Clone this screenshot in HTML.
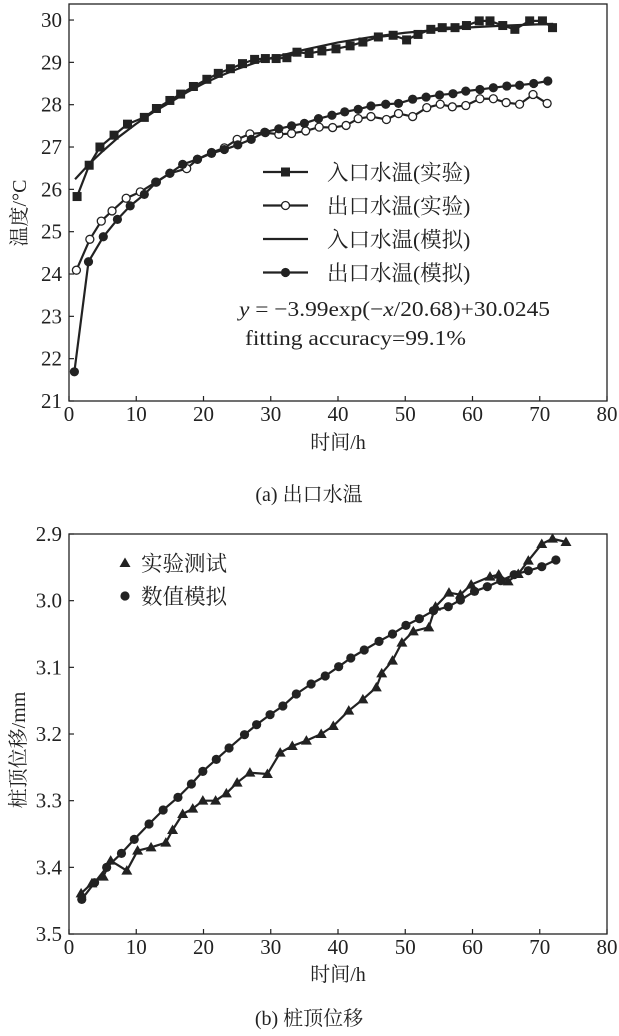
<!DOCTYPE html>
<html><head><meta charset="utf-8"><style>
html,body{margin:0;padding:0;background:#fff;}
svg text{font-family:"Liberation Serif","Noto Serif CJK SC",serif;fill:#222;}
</style></head><body>
<svg id="c" width="619" height="1031" viewBox="0 0 619 1031" xmlns="http://www.w3.org/2000/svg"></svg>
<script>
// ---- Chart (a) data ----
const inExpX=[1.2,3,4.6,6.7,8.7,11.2,13,15,16.6,18.5,20.5,22.2,24,25.8,27.6,29.2,30.8,32.4,33.9,35.7,37.6,39.7,41.8,43.7,46,48.2,50.2,51.9,53.8,55.5,57.4,59.1,61,62.6,64.5,66.3,68.5,70.4,71.9];
const inExpY=[25.83,26.57,27.0,27.28,27.54,27.7,27.91,28.1,28.25,28.43,28.6,28.74,28.85,28.97,29.07,29.09,29.09,29.11,29.24,29.21,29.27,29.32,29.39,29.48,29.6,29.64,29.53,29.66,29.78,29.82,29.82,29.87,29.98,29.98,29.87,29.78,29.98,29.98,29.82];
const inSimX=[0.9,3,5,7.5,10,12.5,15,17.5,20,22.5,25,27.5,30,35,40,45,50,55,60,65,70,72];
const inSimY=[26.24,26.6,26.9,27.25,27.55,27.82,28.05,28.29,28.5,28.68,28.84,28.98,29.1,29.3,29.47,29.6,29.7,29.77,29.83,29.87,29.9,29.91];
const outExpX=[1.1,3.1,4.8,6.4,8.5,10.6,12.9,15,17.5,19.1,21.2,23.1,25,26.9,29.2,31.2,33.1,35.2,37.2,39.2,41.2,43,44.9,47.2,49,51.1,53.2,55.2,57,59,61.1,63.1,65,67,69,71.1];
const outExpY=[24.09,24.82,25.25,25.49,25.79,25.94,26.17,26.38,26.49,26.71,26.87,26.98,27.18,27.31,27.34,27.3,27.32,27.38,27.47,27.46,27.51,27.67,27.72,27.65,27.79,27.72,27.93,28.01,27.95,27.98,28.14,28.14,28.05,28.01,28.24,28.03];
const outSimX=[0.8,2.9,5.1,7.2,9.1,11.2,13,15,16.9,19.1,21.2,23.1,25.1,27.1,29.1,31.2,33.1,35,37.1,39.1,41,43,44.9,47.1,49,51.1,53.1,55.1,57.1,59,61.1,63.1,65.1,67,69.1,71.2];
const outSimY=[21.69,24.29,24.88,25.29,25.61,25.88,26.17,26.38,26.59,26.71,26.85,26.94,27.05,27.18,27.35,27.43,27.5,27.56,27.67,27.75,27.83,27.89,27.97,28.01,28.03,28.13,28.18,28.23,28.26,28.32,28.36,28.4,28.44,28.46,28.5,28.56];
const aXTicks=[0,10,20,30,40,50,60,70,80];
const aYTicks=[21,22,23,24,25,26,27,28,29,30];
// ---- Chart (b) data ----
const bExpX=[1.8,3.4,5.1,6.2,8.6,10.2,12.2,14.4,15.4,16.9,18.4,19.9,21.8,23.4,25,26.9,29.5,31.4,33.2,35.3,37.5,39.3,41.6,43.7,45.7,46.5,48.1,49.5,51.2,53.5,54.5,56.5,58.2,59.8,62.6,63.9,65.3,66.8,68.3,70.3,71.9,73.9];
const bExpY=[3.439,3.424,3.414,3.39,3.405,3.375,3.37,3.363,3.344,3.32,3.312,3.30,3.30,3.289,3.273,3.258,3.26,3.228,3.218,3.21,3.20,3.188,3.165,3.148,3.13,3.109,3.09,3.063,3.046,3.04,3.009,2.988,2.991,2.976,2.964,2.961,2.971,2.96,2.94,2.915,2.907,2.912];
const bSimX=[1.9,3.8,5.6,7.8,9.7,11.9,14,16.2,18.2,19.9,21.9,23.8,26.1,27.9,29.9,31.8,33.8,36,38.1,40.1,41.9,43.9,46.1,48.1,50.1,52.1,54.2,56.4,58.2,60.3,62.2,64.2,66.2,68.3,70.3,72.4];
const bSimY=[3.448,3.423,3.40,3.379,3.358,3.335,3.314,3.295,3.275,3.256,3.238,3.221,3.201,3.186,3.171,3.158,3.14,3.125,3.113,3.099,3.086,3.074,3.061,3.05,3.037,3.027,3.015,3.009,2.999,2.986,2.979,2.97,2.961,2.955,2.949,2.939];
const bXTicks=[0,10,20,30,40,50,60,70,80];
const bYTicks=[2.9,3.0,3.1,3.2,3.3,3.4,3.5];

const NS="http://www.w3.org/2000/svg";
const svg=document.getElementById('c');
function mk(tag,attrs,parent){const e=document.createElementNS(NS,tag);for(const k in attrs)e.setAttribute(k,attrs[k]);(parent||svg).appendChild(e);return e;}
function txt(s,attrs,parent){const e=mk('text',attrs,parent);e.textContent=s;return e;}

const L=69,R=607;
const xs=v=>L+(v/80)*(R-L);
const ay=v=>401-(v-21)*42.33;
const by=v=>534+(v-2.9)*666.7;
const TF=21;

function frame(top,bottom,g){
  const r=mk('rect',{x:L,y:top,width:R-L,height:bottom-top,fill:'none',stroke:'#222','stroke-width':1.3},g);
  
  
}
function poly(X,Y,yf,g,name){
  const p=mk('polyline',{points:X.map((x,i)=>xs(x)+','+yf(Y[i])).join(' '),fill:'none',stroke:'#222','stroke-width':2.2,'stroke-linejoin':'round'},g);
  
  
}
function marker(type,cx,cy,g,name){
  let e;
  if(type==='sq') e=mk('rect',{x:cx-4.5,y:cy-4.5,width:9,height:9,fill:'#222'},g);
  else if(type==='oc') e=mk('circle',{cx:cx,cy:cy,r:4,fill:'#fff',stroke:'#222','stroke-width':1.3},g);
  else if(type==='fc') e=mk('circle',{cx:cx,cy:cy,r:4.6,fill:'#222'},g);
  else e=mk('polygon',{points:`${cx},${cy-5.5} ${cx-5.5},${cy+4} ${cx+5.5},${cy+4}`,fill:'#222'},g);
  
  
}

// ===== Chart (a) =====
const ga=mk('g',{});


frame(4,401,ga);
aXTicks.forEach(t=>{
  mk('line',{x1:xs(t),x2:xs(t),y1:401,y2:396,stroke:'#222','stroke-width':1.2},ga);
  const e=txt(t,{x:xs(t),y:421,'font-size':TF,'text-anchor':'middle'},ga);
  
  
});
aYTicks.forEach(t=>{
  mk('line',{x1:L,x2:L+5,y1:ay(t),y2:ay(t),stroke:'#222','stroke-width':1.2},ga);
  const e=txt(t,{x:62,y:ay(t)+7,'font-size':TF,'text-anchor':'end'},ga);
  
  
});
poly(inSimX,inSimY,ay,ga,'inlet-sim-line');
poly(inExpX,inExpY,ay,ga,'inlet-exp-line');
poly(outExpX,outExpY,ay,ga,'outlet-exp-line');
poly(outSimX,outSimY,ay,ga,'outlet-sim-line');
inExpX.forEach((x,i)=>marker('sq',xs(x),ay(inExpY[i]),ga,'inlet-exp-point'));
outExpX.forEach((x,i)=>marker('oc',xs(x),ay(outExpY[i]),ga,'outlet-exp-point'));
outSimX.forEach((x,i)=>marker('fc',xs(x),ay(outSimY[i]),ga,'outlet-sim-point'));
const legA=[['sq','入口水温(实验)'],['oc','出口水温(实验)'],['none','入口水温(模拟)'],['fc','出口水温(模拟)']];
const lga=mk('g',{},ga);


legA.forEach((d,i)=>{
  const y=172+i*33.5;
  mk('line',{x1:263,x2:308,y1:y,y2:y,stroke:'#222','stroke-width':2.2},lga);
  if(d[0]!=='none') marker(d[0],285.5,y,lga,'legend-marker');
  const e=txt(d[1],{x:327,y:y+8,'font-size':21.5},lga);
  
  
});
const eq=txt('',{x:239,y:316,'font-size':21.5,textLength:311,lengthAdjust:'spacingAndGlyphs'},ga);


eq.innerHTML='<tspan font-style="italic">y</tspan> = −3.99exp(−<tspan font-style="italic">x</tspan>/20.68)+30.0245';
const fa=txt('fitting  accuracy=99.1%',{x:245,y:345,'font-size':21.5,textLength:221,lengthAdjust:'spacingAndGlyphs'},ga);


const xta=txt('时间/h',{x:338,y:449,'font-size':20,'text-anchor':'middle'},ga);


const yta=txt('温度/°C',{x:0,y:0,'font-size':20,'text-anchor':'middle',transform:'translate(26,213) rotate(-90)'},ga);


const ca=txt('(a) 出口水温',{x:309,y:501,'font-size':20,'text-anchor':'middle'},ga);



// ===== Chart (b) =====
const gb=mk('g',{});


frame(534,934,gb);
bXTicks.forEach(t=>{
  mk('line',{x1:xs(t),x2:xs(t),y1:934,y2:929,stroke:'#222','stroke-width':1.2},gb);
  const e=txt(t,{x:xs(t),y:954,'font-size':TF,'text-anchor':'middle'},gb);
  
  
});
bYTicks.forEach(t=>{
  mk('line',{x1:L,x2:L+5,y1:by(t),y2:by(t),stroke:'#222','stroke-width':1.2},gb);
  const e=txt(t.toFixed(1),{x:62,y:by(t)+7,'font-size':TF,'text-anchor':'end'},gb);
  
  
});
poly(bSimX,bSimY,by,gb,'sim-line');
poly(bExpX,bExpY,by,gb,'exp-line');
bSimX.forEach((x,i)=>marker('fc',xs(x),by(bSimY[i]),gb,'sim-point'));
bExpX.forEach((x,i)=>marker('tri',xs(x),by(bExpY[i]),gb,'exp-point'));
const lgb=mk('g',{},gb);


marker('tri',125,563,lgb,'legend-marker');
marker('fc',125,596,lgb,'legend-marker');
const l1=txt('实验测试',{x:141,y:571,'font-size':21.5},lgb);


const l2=txt('数值模拟',{x:141,y:604,'font-size':21.5},lgb);


const xtb=txt('时间/h',{x:338,y:981,'font-size':20,'text-anchor':'middle'},gb);


const ytb=txt('桩顶位移/mm',{x:0,y:0,'font-size':20,'text-anchor':'middle',transform:'translate(25,750) rotate(-90)'},gb);


const cb=txt('(b) 桩顶位移',{x:309,y:1025,'font-size':20,'text-anchor':'middle'},gb);


</script>
</body></html>
